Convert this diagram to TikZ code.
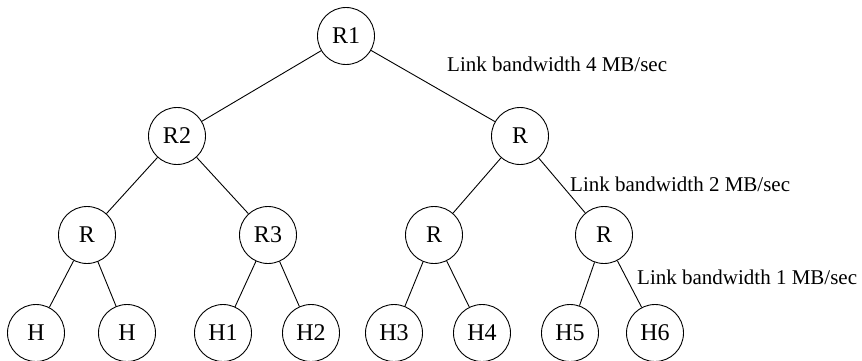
\documentclass[tikz,border=0pt]{standalone}
\usepackage{fontspec}
\setmainfont{Liberation Serif}
\begin{document}
\begin{tikzpicture}[x=1pt,y=-1pt,
  nd/.style={draw,circle,line width=0.9pt,minimum size=57pt,inner sep=0pt,font=\fontsize{24}{28}\selectfont},
  lk/.style={line width=0.9pt},
  lbl/.style={anchor=base west,inner sep=0pt,font=\fontsize{21}{25}\selectfont}]
\useasboundingbox (0,0) rectangle (862,360);
\node[nd] (r1) at (346,36) {R1};
\node[nd] (r2) at (177,136) {R2};
\node[nd] (ra) at (520,136) {R};
\node[nd] (rb) at (87,235) {R};
\node[nd] (r3) at (268,235) {R3};
\node[nd] (rc) at (434,235) {R};
\node[nd] (rd) at (604,235) {R};
\node[nd] (ha) at (36,333) {H};
\node[nd] (hb) at (127,333) {H};
\node[nd] (h1) at (223,333) {H1};
\node[nd] (h2) at (311,333) {H2};
\node[nd] (h3) at (394,333) {H3};
\node[nd] (h4) at (482,333) {H4};
\node[nd] (h5) at (570,333) {H5};
\node[nd] (h6) at (655,333) {H6};
\draw[lk] (r1) -- (r2);
\draw[lk] (r1) -- (ra);
\draw[lk] (r2) -- (rb);
\draw[lk] (r2) -- (r3);
\draw[lk] (ra) -- (rc);
\draw[lk] (ra) -- (rd);
\draw[lk] (rb) -- (ha);
\draw[lk] (rb) -- (hb);
\draw[lk] (r3) -- (h1);
\draw[lk] (r3) -- (h2);
\draw[lk] (rc) -- (h3);
\draw[lk] (rc) -- (h4);
\draw[lk] (rd) -- (h5);
\draw[lk] (rd) -- (h6);
\node[lbl] (l4) at (447,71) {Link bandwidth 4 MB/sec};
\node[lbl] (l2) at (570,191) {Link bandwidth 2 MB/sec};
\node[lbl] (l1) at (637,284) {Link bandwidth 1 MB/sec};
\end{tikzpicture}
\end{document}
